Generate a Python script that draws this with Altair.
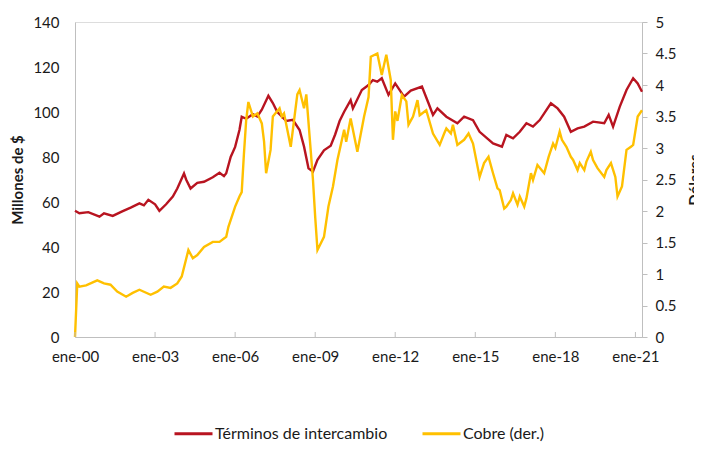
import altair as alt
import pandas as pd

# Términos de intercambio (left axis, Millones de $)
tt_dates = ["2000-01","2000-03","2000-07","2000-12","2001-02","2001-06","2001-10","2002-02","2002-06","2002-08",
            "2002-10","2003-01","2003-03","2003-06","2003-09","2003-11","2004-02","2004-03","2004-05","2004-08",
            "2004-11","2005-03","2005-06","2005-08","2005-09","2005-11","2006-01","2006-03","2006-04","2006-06",
            "2006-09","2006-11","2007-01","2007-04","2007-06","2007-08","2007-10","2007-12","2008-03","2008-06",
            "2008-08","2008-10","2008-12","2009-02","2009-05","2009-08","2009-10","2009-12","2010-02","2010-05",
            "2010-06","2010-10","2011-01","2011-03","2011-05","2011-07","2011-10","2012-01","2012-05","2012-08",
            "2013-01","2013-04","2013-06","2013-08","2013-12","2014-05","2014-08","2014-12","2015-03","2015-09",
            "2016-01","2016-03","2016-06","2016-09","2016-12","2017-03","2017-06","2017-11","2018-02","2018-05",
            "2018-08","2018-11","2019-02","2019-06","2019-11","2020-01","2020-03","2020-06","2020-09","2020-12",
            "2021-02","2021-04"]
tt_values = [56.1,55.0,55.5,53.5,55.0,53.8,55.7,57.5,59.4,58.5,
             61.0,59.0,56.1,59.0,62.4,66.0,72.7,70.0,66.0,68.5,
             69.0,71.0,73.0,71.5,72.8,80.0,84.5,92.0,97.9,97.0,
             99.0,98.0,101.0,107.2,104.0,100.0,98.0,96.0,96.5,92.0,
             84.6,75.0,73.5,78.7,83.0,85.0,90.0,96.0,100.1,105.3,
             101.6,109.8,112.0,114.2,113.5,115.0,107.6,112.7,106.8,109.5,
             111.3,103.9,98.7,101.6,97.9,95.0,97.9,96.4,91.2,86.0,
             84.6,89.8,88.3,91.2,95.0,93.5,96.4,103.9,101.6,97.9,
             91.2,92.7,93.5,95.7,95.0,98.7,93.5,102.4,109.8,115.0,
             112.7,109.0]

# Cobre (right axis, Dólares)
cu_dates = ["2000-01","2000-02","2000-03","2000-06","2000-11","2001-02","2001-05","2001-08","2001-12","2002-03",
            "2002-06","2002-11","2003-02","2003-05","2003-08","2003-11","2004-01","2004-04","2004-06","2004-08",
            "2004-11","2005-03","2005-06","2005-09","2005-10","2006-01","2006-03","2006-04","2006-05","2006-06",
            "2006-07","2006-09","2006-11","2007-01","2007-02","2007-03","2007-05","2007-06","2007-09","2007-10",
            "2007-11","2008-01","2008-02","2008-05","2008-06","2008-08","2008-09","2008-11","2008-12","2009-01",
            "2009-02","2009-05","2009-07","2009-09","2009-11","2010-02","2010-03","2010-05","2010-08","2010-11",
            "2011-01","2011-02","2011-05","2011-07","2011-09","2011-11","2011-12","2012-01","2012-02","2012-04",
            "2012-06","2012-07","2012-09","2012-11","2012-12","2013-03","2013-06","2013-09","2013-11","2013-12",
            "2014-02","2014-03","2014-05","2014-08","2014-10","2014-12","2015-03","2015-05","2015-07","2015-09",
            "2015-11","2015-12","2016-02","2016-03","2016-05","2016-06","2016-08","2016-09","2016-11","2016-12",
            "2017-02","2017-03","2017-05","2017-08","2017-10","2017-12","2018-01","2018-03","2018-04","2018-06",
            "2018-08","2018-09","2018-11","2018-12","2019-02","2019-03","2019-05","2019-06","2019-08","2019-11",
            "2019-12","2020-02","2020-04","2020-05","2020-07","2020-09","2020-11","2020-12","2021-02","2021-04"]
cu_values = [0.0,0.85,0.8,0.82,0.9,0.85,0.83,0.72,0.64,0.7,
             0.75,0.67,0.72,0.8,0.78,0.85,0.96,1.38,1.25,1.3,
             1.43,1.51,1.51,1.59,1.75,2.07,2.23,2.3,2.9,3.44,
             3.73,3.5,3.55,3.39,3.1,2.6,2.97,3.5,3.63,3.5,
             3.55,3.2,3.02,3.85,3.92,3.63,3.85,2.95,2.5,1.9,
             1.38,1.59,2.07,2.39,2.81,3.29,3.1,3.47,2.94,3.5,
             3.81,4.45,4.5,4.16,4.48,4.08,3.13,3.58,3.43,3.84,
             3.74,3.37,3.5,3.76,3.52,3.6,3.23,3.05,3.23,3.31,
             3.23,3.37,3.05,3.13,3.23,3.07,2.54,2.76,2.86,2.6,
             2.36,2.33,2.04,2.07,2.17,2.28,2.1,2.23,2.07,2.2,
             2.6,2.49,2.73,2.6,2.86,3.07,3.0,3.26,3.13,3.02,
             2.86,2.81,2.65,2.76,2.65,2.78,2.94,2.81,2.68,2.54,
             2.65,2.76,2.54,2.23,2.39,2.97,3.02,3.05,3.5,3.6]

tick_years = [2000, 2003, 2006, 2009, 2012, 2015, 2018, 2021]

series_names = ["Términos de intercambio", "Cobre (der.)"]
series_colors = ["#B81420", "#FFC000"]


def to_date(s):
    return s.replace("-", "/") + "/01"


tt_df = pd.DataFrame({"fecha": [to_date(d) for d in tt_dates], "valor": tt_values,
                      "serie": series_names[0]})
cu_df = pd.DataFrame({"fecha": [to_date(d) for d in cu_dates], "valor": cu_values,
                      "serie": series_names[1]})
tick_df = pd.DataFrame({"fecha": [f"{y}/01/01" for y in tick_years]})

FONT = "Lato"
GRAY = "#BFBFBF"
TXT = "#1A1A1A"

x_scale = alt.Scale(domain=[alt.DateTime(year=2000, month=1, date=1),
                            alt.DateTime(year=2021, month=4, date=1)])
x_axis = alt.Axis(values=[alt.DateTime(year=y, month=1, date=1) for y in tick_years],
                  labelExpr="'ene-' + timeFormat(datum.value, '%y')",
                  title=None, ticks=False, grid=False, domainColor=GRAY, labelFlush=False,
                  labelOverlap=False, labelPadding=12, labelFontSize=15, labelColor=TXT,
                  labelFont=FONT)

color = alt.Color("serie:N", scale=alt.Scale(domain=series_names, range=series_colors),
                  legend=alt.Legend(title=None, orient="none", direction="horizontal",
                                    legendX=98, legendY=391, symbolType="stroke",
                                    symbolSize=1444, symbolStrokeWidth=3, labelOffset=1,
                                    columnPadding=28, labelFontSize=16, labelFont=FONT,
                                    labelColor=TXT, labelLimit=400))

red = alt.Chart(tt_df).mark_line(strokeWidth=2.4).encode(
    x=alt.X("fecha:T", scale=x_scale, axis=x_axis),
    y=alt.Y("valor:Q", scale=alt.Scale(domain=[0, 140]),
            axis=alt.Axis(orient="left", values=list(range(0, 141, 20)), ticks=False, grid=False,
                          domainColor=GRAY, labelPadding=16, labelFontSize=15, labelColor=TXT,
                          labelFont=FONT, title="Millones de $", titleFont=FONT, titleFontSize=15,
                          titleFontWeight="bold", titleColor=TXT, titleAngle=270,
                          titleBaseline="bottom", titleX=-50)),
    color=color,
)

yellow = alt.Chart(cu_df).mark_line(strokeWidth=2.4).encode(
    x=alt.X("fecha:T", scale=x_scale, axis=x_axis),
    y=alt.Y("valor:Q", scale=alt.Scale(domain=[0, 5]),
            axis=alt.Axis(orient="right", values=[i * 0.5 for i in range(11)], format="~g",
                          ticks=True, tickSize=5, tickColor=GRAY, grid=False, domainColor=GRAY,
                          labelPadding=8, labelFontSize=15, labelColor=TXT, labelFont=FONT,
                          title="Dólares", titleFont=FONT, titleFontSize=15,
                          titleFontWeight="bold", titleColor=TXT, titleAngle=270,
                          titleBaseline="bottom", titleX=60)),
    color=color,
)

ticks = alt.Chart(tick_df).mark_rule(color=GRAY, strokeWidth=1).encode(
    x=alt.X("fecha:T", scale=x_scale, axis=x_axis),
    y=alt.value(310),
    y2=alt.value(315),
)

chart = alt.layer(red, yellow, ticks).resolve_scale(y="independent", color="shared").properties(
    width=567, height=315,
    autosize=alt.AutoSizeParams(type="none"),
    padding={"left": 67, "top": 14, "right": 52, "bottom": 107},
).configure_view(stroke=None).configure(background="white")

chart.save("out.html", embed_options={"renderer": "svg", "actions": False})
